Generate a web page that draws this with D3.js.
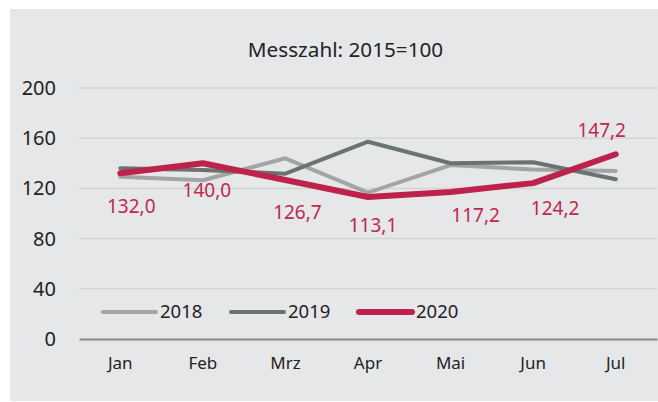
<!DOCTYPE html>
<html>
<head>
<meta charset="utf-8">
<script src="https://cdn.jsdelivr.net/npm/d3@7"></script>
<style>
  body { margin: 0; background: #fff; }
  svg { display: block; font-family: "Noto Sans", sans-serif; }
</style>
</head>
<body>
<div id="chart"></div>
<script>
// data
var months = ["Jan", "Feb", "Mrz", "Apr", "Mai", "Jun", "Jul"];
var v2018 = [129.3, 126.5, 144.0, 116.6, 138.6, 135.0, 133.9];
var v2019 = [136.0, 134.7, 131.7, 157.2, 140.0, 140.8, 127.3];
var v2020 = [132.0, 140.0, 126.7, 113.1, 117.2, 124.2, 147.2];
var yTicks = [0, 40, 80, 120, 160, 200];
var seriesNames = ["2018", "2019", "2020"];
var titleText = "Messzahl: 2015=100";

// label nudges for the 2020 data labels (hand placed in the original)
var labelNudge = [[11, 33], [4, 27], [12, 32], [5, 28], [25, 23], [22, 25], [-14, -24]];

var W = 658, H = 402;
var plot = {left: 79, right: 657, top: 88, bottom: 339};

var svg = d3.select("#chart").append("svg")
    .attr("width", W).attr("height", H);

// panel
svg.append("rect")
    .attr("x", 10).attr("y", 9)
    .attr("width", W - 10).attr("height", 392)
    .attr("fill", "#e6e7e9");

var x = d3.scaleBand().domain(months).range([plot.left, plot.right]);
var y = d3.scaleLinear().domain([0, 200]).range([plot.bottom, plot.top]);
var cx = function(m) { return x(m) + x.bandwidth() / 2; };

// grid
svg.append("g").selectAll("line")
    .data(yTicks.filter(function(t) { return t > 0; }))
    .join("line")
    .attr("x1", plot.left).attr("x2", plot.right)
    .attr("y1", function(d) { return y(d); })
    .attr("y2", function(d) { return y(d); })
    .attr("stroke", "#d3d4d6").attr("stroke-width", 1.5);

// y axis labels
var yAxis = d3.axisLeft(y).tickValues(yTicks).tickSize(0).tickPadding(0);
svg.append("g")
    .attr("transform", "translate(56,0)")
    .call(yAxis)
    .call(function(g) { g.select(".domain").remove(); })
    .selectAll("text")
    .attr("font-size", 20).attr("fill", "#222")
    .attr("font-family", "Noto Sans, sans-serif");

// x axis
var xAxis = d3.axisBottom(x).tickSize(0).tickPadding(18);
svg.append("g")
    .attr("transform", "translate(0," + plot.bottom + ")")
    .call(xAxis)
    .call(function(g) {
        g.select(".domain").attr("stroke", "#888").attr("stroke-width", 2);
    })
    .selectAll("text")
    .attr("font-size", 17).attr("fill", "#222")
    .attr("font-family", "Noto Sans, sans-serif");

// title
svg.append("text")
    .attr("x", 345.5).attr("y", 57)
    .attr("text-anchor", "middle")
    .attr("font-size", 20.7).attr("fill", "#222")
    .text(titleText);

// lines
var styles = [
    {color: "#a3a4a5", width: 4},
    {color: "#69736f", width: 4},
    {color: "#bc224c", width: 6}
];
var series = [v2018, v2019, v2020];
var line = d3.line()
    .x(function(d, i) { return cx(months[i]); })
    .y(function(d) { return y(d); });

svg.append("g").selectAll("path")
    .data(series)
    .join("path")
    .attr("d", line)
    .attr("fill", "none")
    .attr("stroke", function(d, i) { return styles[i].color; })
    .attr("stroke-width", function(d, i) { return styles[i].width; })
    .attr("stroke-linejoin", "round")
    .attr("stroke-linecap", "round");

// data labels 2020
var fmt = function(v) { return d3.format(".1f")(v).replace(".", ","); };
svg.append("g").selectAll("text")
    .data(v2020)
    .join("text")
    .attr("x", function(d, i) { return cx(months[i]) + labelNudge[i][0]; })
    .attr("y", function(d, i) { return y(d) + labelNudge[i][1]; })
    .attr("dy", "0.35em")
    .attr("text-anchor", "middle")
    .attr("font-size", 19).attr("fill", "#c0284f")
    .text(fmt);

// legend
var legendX = [103, 231, 359];
var lg = svg.append("g").selectAll("g")
    .data(seriesNames)
    .join("g")
    .attr("transform", function(d, i) { return "translate(" + legendX[i] + ",312)"; });
lg.append("line")
    .attr("x1", 0).attr("x2", 53)
    .attr("stroke", function(d, i) { return styles[i].color; })
    .attr("stroke-width", function(d, i) { return styles[i].width; })
    .attr("stroke-linecap", "round");
lg.append("text")
    .attr("x", 57).attr("dy", "0.35em")
    .attr("font-size", 18.5).attr("fill", "#222")
    .text(function(d) { return d; });
</script>
</body>
</html>
